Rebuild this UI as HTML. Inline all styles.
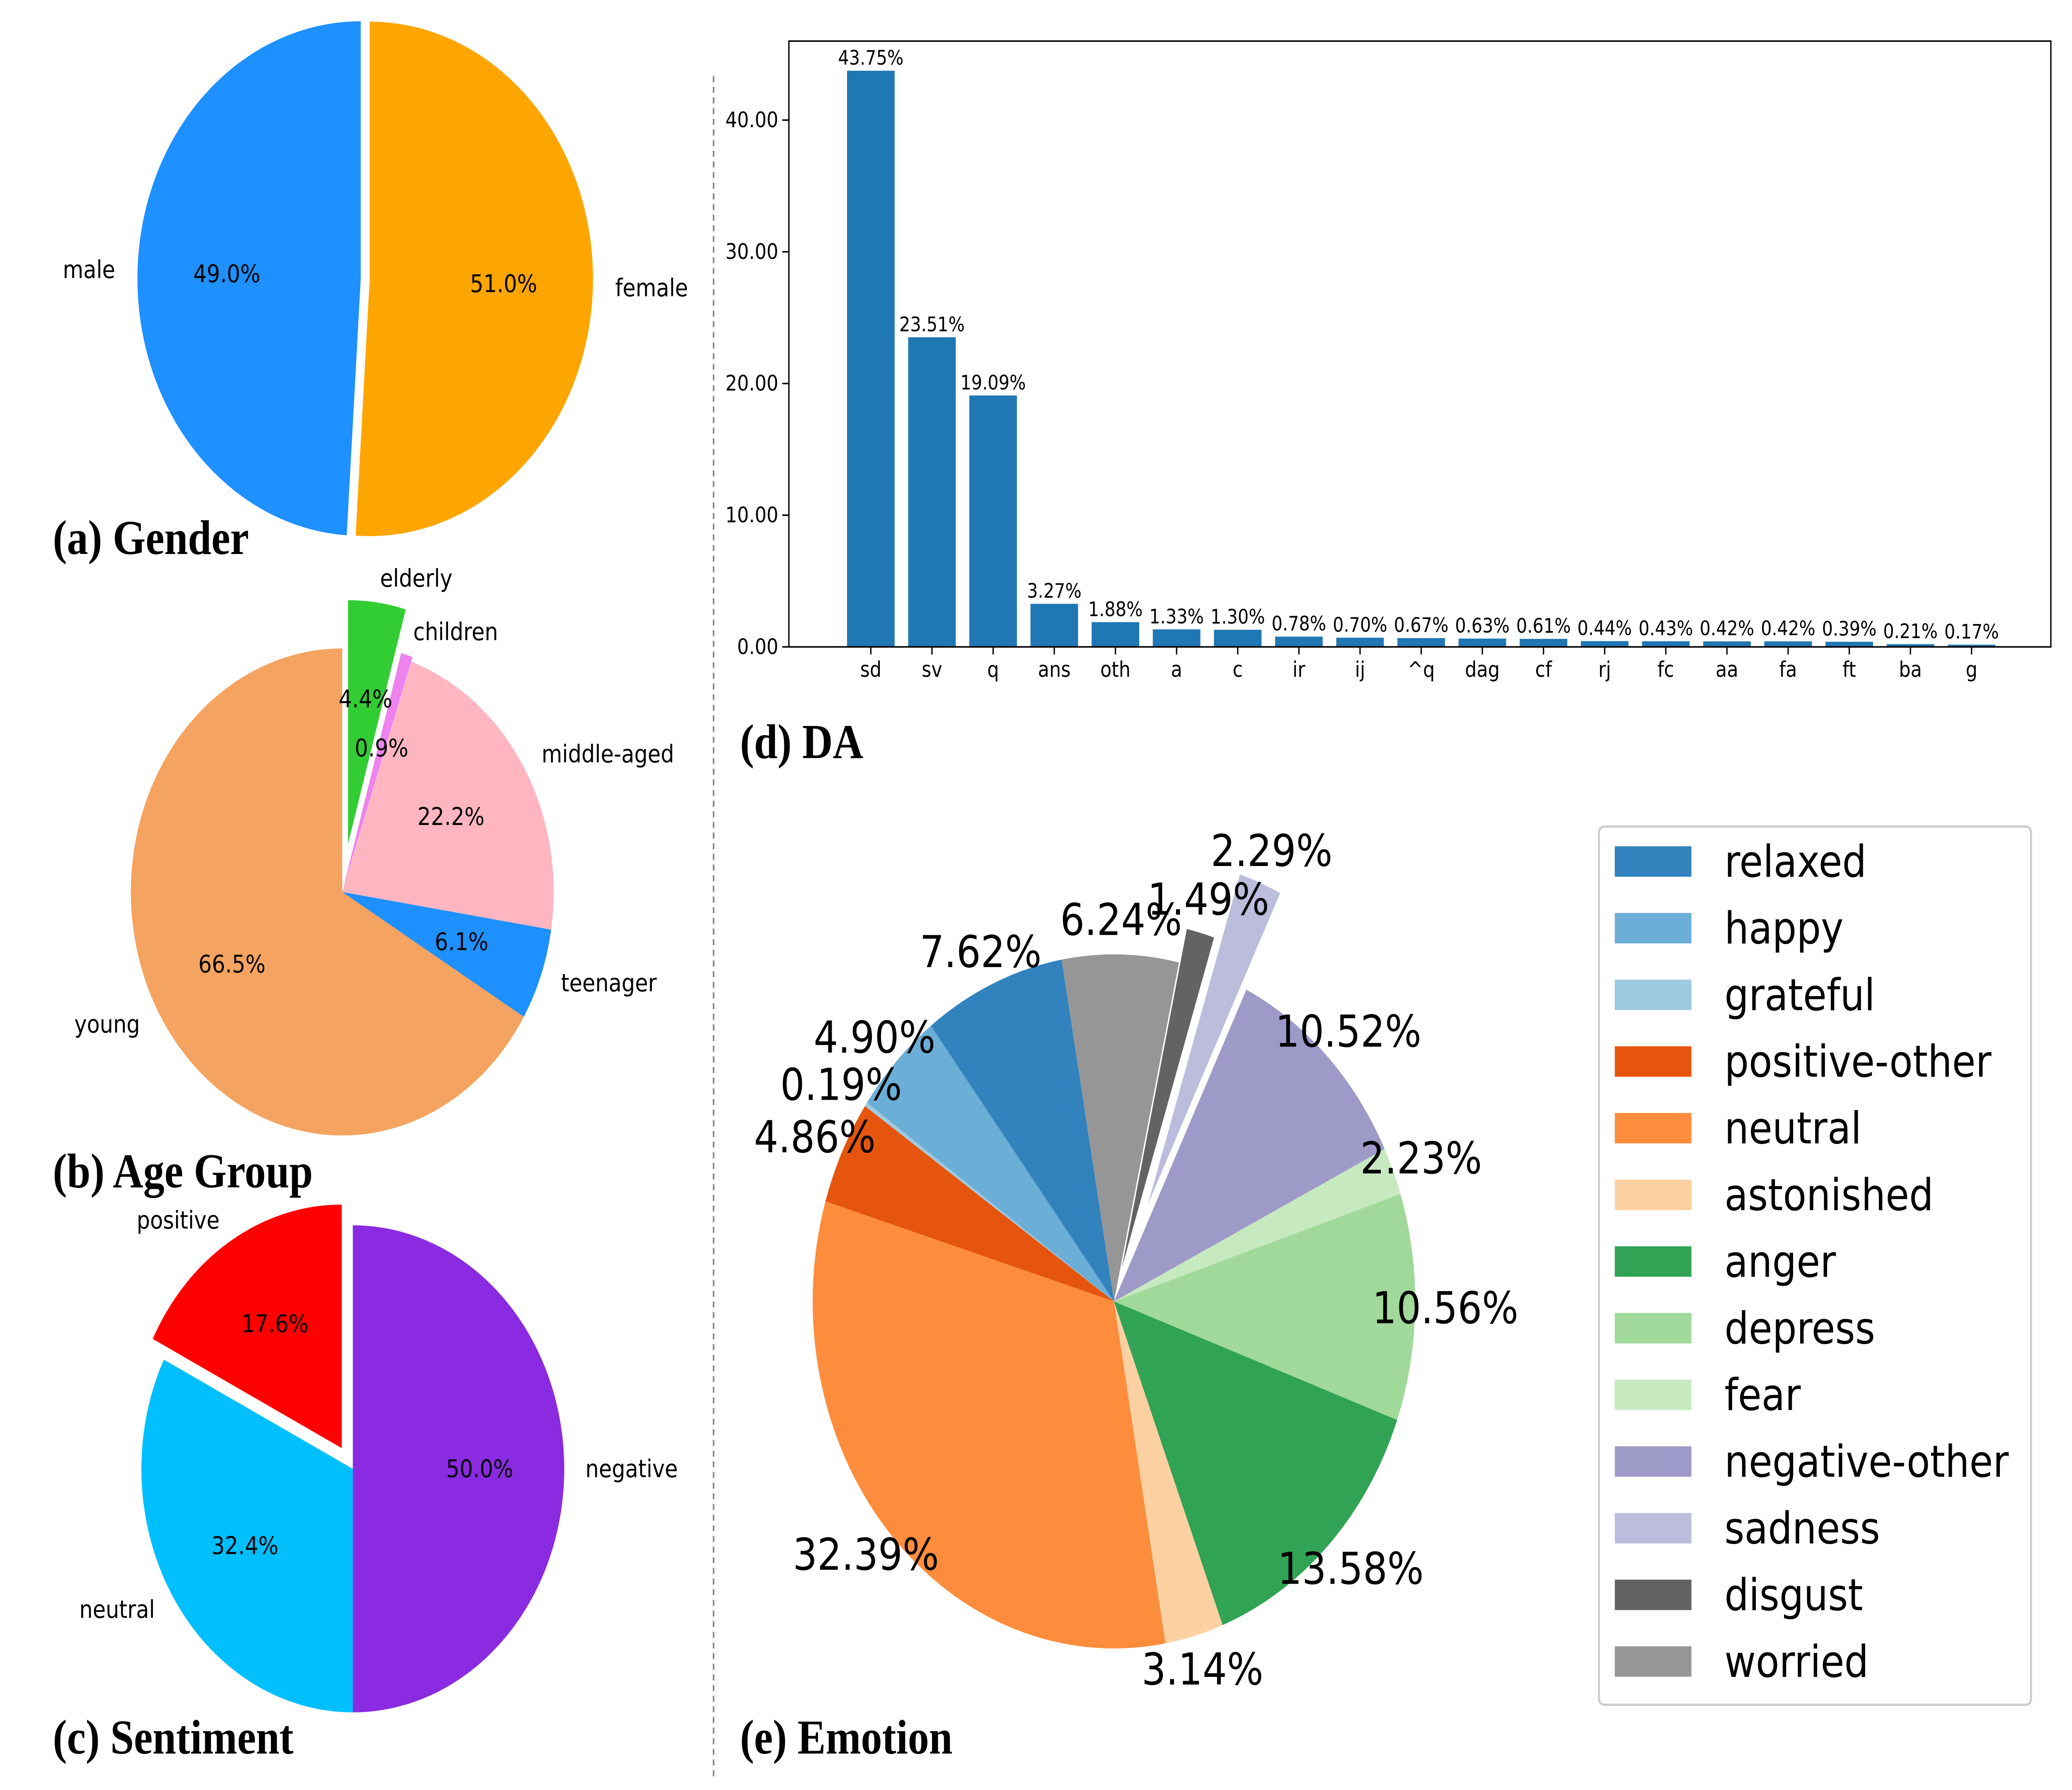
<!DOCTYPE html>
<html><head><meta charset="utf-8"><style>
html,body{margin:0;padding:0;background:#fff;width:100vw;height:100vh;overflow:hidden}
svg{display:block;width:100vw;height:100vh}
</style></head><body>
<svg id="fig" xmlns="http://www.w3.org/2000/svg" viewBox="0 0 1568 1176" preserveAspectRatio="none" font-family="'DejaVu Sans','Liberation Sans',sans-serif">
<rect width="1568" height="1176" fill="#fff"/>
<line x1="540" y1="50" x2="540" y2="1168" stroke="#888" stroke-width="1.2" stroke-dasharray="4,3"/>
<g font-family="'Liberation Serif',serif" font-weight="bold" font-size="32" fill="#000">
<text x="40" y="364">(a) Gender</text>
<text x="40" y="780">(b) Age Group</text>
<text x="40" y="1152">(c) Sentiment</text>
<text x="560" y="498">(d) DA</text>
<text x="560" y="1152">(e) Emotion</text>
</g>
<g id="charts"></g>
</svg>
<script>
// Gender
const genderLabels=["male","female"];
const genderValues=[49.0,51.0];
// Age
const ageLabels=["young","teenager","middle-aged","children","elderly"];
const ageValues=[66.5,6.1,22.2,0.9,4.4];
// Sentiment
const sentLabels=["negative","positive","neutral"];
const sentValues=[50.0,17.6,32.4];
// DA
const daCategories=["sd","sv","q","ans","oth","a","c","ir","ij","^q","dag","cf","rj","fc","aa","fa","ft","ba","g"];
const daValues=[43.75,23.51,19.09,3.27,1.88,1.33,1.30,0.78,0.70,0.67,0.63,0.61,0.44,0.43,0.42,0.42,0.39,0.21,0.17];
const daTicks=[0,10,20,30,40];
// Emotion
const emoLabels=["relaxed","happy","grateful","positive-other","neutral","astonished","anger","depress","fear","negative-other","sadness","disgust","worried"];
const emoValues=[7.62,4.90,0.19,4.86,32.39,3.14,13.58,10.56,2.23,10.52,2.29,1.49,6.24];

const NS="http://www.w3.org/2000/svg";
const root=document.getElementById('charts');
function mk(tag,attrs,parent,text){const e=document.createElementNS(NS,tag);for(const k in attrs)e.setAttribute(k,attrs[k]);if(text!==undefined)e.textContent=text;(parent||root).appendChild(e);return e;}

function pie(cfg){
  const g=mk('g',{});
  
  
  const wg=mk('g',{},g);
  const tg=mk('g',{},g);
  const tot=cfg.values.reduce((a,b)=>a+b,0);
  let a0=cfg.start;
  cfg.values.forEach((v,i)=>{
    const sweep=v/tot*360, a1=a0+sweep, mid=(a0+a1)/2*Math.PI/180;
    const ex=(cfg.explode[i]||0)*cfg.r;
    const cx=cfg.cx+ex*Math.cos(mid), cy=cfg.cy-ex*Math.sin(mid);
    const r=cfg.r, t0=a0*Math.PI/180, t1=a1*Math.PI/180;
    const x0=cx+r*Math.cos(t0), y0=cy-r*Math.sin(t0), x1=cx+r*Math.cos(t1), y1=cy-r*Math.sin(t1);
    const large=sweep>180?1:0;
    const p=mk('path',{d:`M${cx},${cy}L${x0},${y0}A${r},${r} 0 ${large} 0 ${x1},${y1}Z`,fill:cfg.colors[i]},wg);
    
    
    if(cfg.showLabels){
      const lx=cx+cfg.r*1.1*Math.cos(mid), ly=cy-cfg.r*1.1*Math.sin(mid);
      const t=mk('text',{x:lx,y:ly,'font-size':16,'dominant-baseline':'central','text-anchor':Math.cos(mid)>=0?'start':'end'},tg,cfg.labels[i]);
      
      
    }
    const pd=cfg.pctDist, px=cx+cfg.r*pd*Math.cos(mid), py=cy-cfg.r*pd*Math.sin(mid);
    const pt=mk('text',{x:px,y:py,'font-size':cfg.pctSize,'dominant-baseline':'central','text-anchor':'middle'},tg,v.toFixed(cfg.dec)+'%');
    
    
    a0=a1;
  });
}
pie({name:'gender-pie',labels:genderLabels,values:genderValues,cx:273,cy:183,r:169,start:90,explode:[0,0.04],colors:['#1E90FF','#FFA500'],showLabels:true,pctDist:0.6,pctSize:16,dec:1});
pie({name:'age-pie',labels:ageLabels,values:ageValues,cx:259,cy:586,r:160,start:90,explode:[0,0,0,0.02,0.2],colors:['#F4A460','#1E90FF','#FFB6C1','#EE82EE','#32CD32'],showLabels:true,pctDist:0.6,pctSize:16,dec:1});
pie({name:'sentiment-pie',labels:sentLabels,values:sentValues,cx:267,cy:965,r:160,start:270,explode:[0,0.1,0],colors:['#8A2BE2','#FF0000','#00BFFF'],showLabels:true,pctDist:0.6,pctSize:16,dec:1});
const emoColors=['#3182bd','#6baed6','#9ecae1','#e6550d','#fd8d3c','#fdd0a2','#31a354','#a1d99b','#c7e9c0','#9e9ac8','#bcbddc','#636363','#969696'];
pie({name:'emotion-pie',labels:emoLabels,values:emoValues,cx:843,cy:855,r:228,start:100,explode:[0,0,0,0,0,0,0,0,0,0,0.3,0.1,0],colors:emoColors,showLabels:false,pctDist:1.1,pctSize:29,dec:2});

// Legend
const lg=mk('g',{});


mk('rect',{x:1210,y:543,width:327,height:577,rx:4,fill:'#fff',stroke:'#ccc','stroke-width':1.5},lg);
emoLabels.forEach((l,i)=>{
  const y=566+i*43.8;
  const e=mk('g',{},lg);
  
  
  mk('rect',{x:1222,y:y-10,width:58,height:20,fill:emoColors[i]},e);
  mk('text',{x:1305,y:y,'font-size':29,'dominant-baseline':'central'},e,l);
});

// DA bar chart
const ax={l:597,r:1552,t:27,b:425,ymax:46};
const yS=v=>ax.b-(v/ax.ymax)*(ax.b-ax.t);
const x0=659, step=(1492-659)/(daCategories.length-1);
const xS=i=>x0+i*step;
const bg=mk('g',{});


daTicks.forEach(t=>{
  const y=yS(t);
  mk('line',{x1:ax.l-5,y1:y,x2:ax.l,y2:y,stroke:'#000','stroke-width':1},bg);
  const tt=mk('text',{x:ax.l-8,y:y,'font-size':14,'text-anchor':'end','dominant-baseline':'central'},bg,t.toFixed(2));
  
  
});
daCategories.forEach((c,i)=>{
  const x=xS(i), v=daValues[i], w=36;
  const b=mk('rect',{x:x-w/2,y:yS(v),width:w,height:ax.b-yS(v),fill:'#1f77b4'},bg);
  
  
  mk('line',{x1:x,y1:ax.b,x2:x,y2:ax.b+5,stroke:'#000','stroke-width':1},bg);
  const xl=mk('text',{x:x,y:ax.b+15,'font-size':14,'text-anchor':'middle','dominant-baseline':'central'},bg,c);
  
  
  const vl=mk('text',{x:x,y:yS(v)-4,'font-size':13,'text-anchor':'middle'},bg,v.toFixed(2)+'%');
  
  
});
mk('rect',{x:ax.l,y:ax.t,width:ax.r-ax.l,height:ax.b-ax.t,fill:'none',stroke:'#000','stroke-width':1},bg);
</script>
</body></html>
